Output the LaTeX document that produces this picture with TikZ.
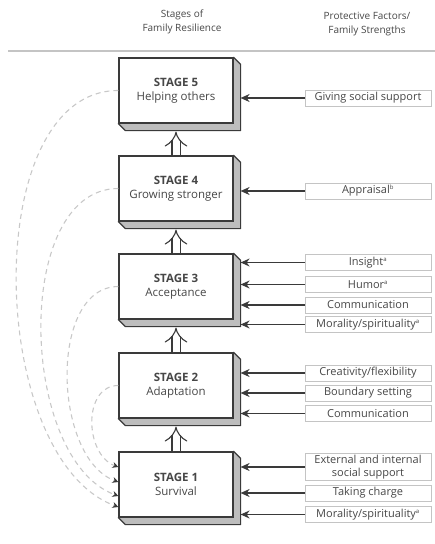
\documentclass[tikz,border=0pt]{standalone}
\usepackage{fontspec}
\setmainfont{Open Sans}
\usetikzlibrary{positioning,arrows.meta,calc,backgrounds}
\definecolor{ink}{HTML}{3A3A3A}
\definecolor{txt}{HTML}{474747}
\definecolor{sidegrey}{HTML}{BDBDBD}
\definecolor{rimgrey}{HTML}{C4C4C4}
\definecolor{dashgrey}{HTML}{C8C8C8}
\newcommand\fnmark[1]{\textsuperscript{\fontsize{6}{6}\selectfont #1}}

\begin{document}
\begin{tikzpicture}[x=1pt,y=1pt,
  stage/.style={draw=ink,fill=white,line width=1.2pt,minimum width=114pt,minimum height=65pt,
    align=center,text=txt,font=\fontsize{11.5}{14}\selectfont},
  side3d/.style={draw=ink,fill=sidegrey,line width=1.2pt,line join=round},
  factor/.style={draw=rimgrey,fill=white,line width=0.9pt,minimum width=126pt,minimum height=16pt,
    inner xsep=1pt,inner ysep=2pt,align=center,text=txt,font=\fontsize{11}{12.5}\selectfont},
  feed/.style={draw=ink,line width=1.1pt,-{Stealth[length=9pt,width=8pt]},shorten >=7pt},
  climb/.style={draw=ink,line width=1.1pt,double=white,double distance=7pt,-{Implies},shorten >=8pt},
  back/.style={draw=dashgrey,dash pattern=on 5pt off 4pt,line width=1.1pt,
    -{Stealth[length=6pt,width=6pt,color=ink]}},
  head/.style={align=center,text=txt,font=\fontsize{10}{14}\selectfont}]
  \useasboundingbox (0,0) rectangle (435,-544);

  \node[head] (hstage) at (182,-22) {Stages of\\Family Resilience};
  \node[head] (hfactor) at (367,-24) {Protective Factors/\\Family Strengths};
  \draw[draw=rimgrey,line width=1.6pt] (8,-51) -- (435,-51);

  \foreach \i/\y/\lbl in {5/90.5/Helping others,4/188.5/Growing stronger,3/286.5/Acceptance,
      2/385.5/Adaptation,1/484.5/Survival}{
    \node[stage] (s\i) at (176,-\y) {\textbf{STAGE \i}\\\lbl};
    \begin{scope}[on background layer]
      \draw[side3d] (s\i.north east) -- ++(7,-7) |- ($(s\i.south west)+(7,-7)$)
        -- (s\i.south west) -- cycle;
    \end{scope}
  }

  \foreach \a/\b in {1/2,2/3,3/4,4/5}
    \draw[climb] (s\a.north) -- (s\b.south);

  \foreach \n/\k/\y/\t in {
      f1/5/98/Giving social support,
      f2/4/191/Appraisal\fnmark{b},
      f3/3/262.5/Insight\fnmark{a},
      f4/3/284.5/Humor\fnmark{a},
      f5/3/305/Communication,
      f6/3/324.5/{Morality/spirituality\fnmark{a}},
      f7/2/373/{Creativity/flexibility},
      f8/2/393/Boundary setting,
      f9/2/413.5/Communication,
      f10/1/467/External and internal\\social support,
      f11/1/493/Taking charge,
      f12/1/514.5/{Morality/spirituality\fnmark{a}}}{
    \node[factor] (\n) at (368,-\y) {\t};
    \draw[feed] (\n.west) -- (\n.west -| s\k.east);
  }

  \coordinate (r2) at ($(s1.west)+(0,17.5)$);
  \coordinate (r3) at ($(s1.west)+(0,2.5)$);
  \coordinate (r4) at ($(s1.west)+(0,-11.5)$);
  \coordinate (r5) at ($(s1.west)+(0,-22.5)$);
  \foreach \i/\d in {2/36,3/70,4/106,5/140}
    \draw[back] (s\i.west) .. controls +(180:\d) and +(160:\d) .. (r\i);
\end{tikzpicture}
\end{document}
